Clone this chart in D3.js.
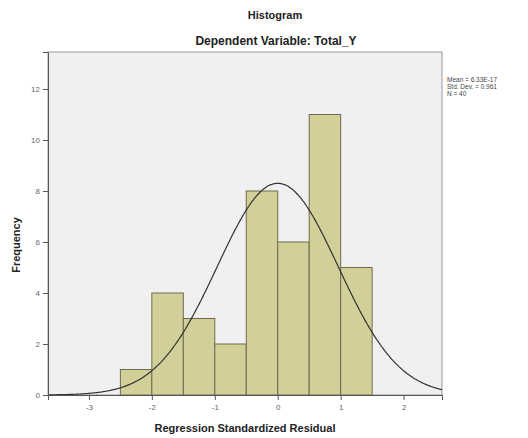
<!DOCTYPE html>
<html><head><meta charset="utf-8">
<script src="https://cdn.jsdelivr.net/npm/d3@7"></script>
<style>body{margin:0;background:#fff;} svg{display:block;font-family:"Liberation Sans",Arial,sans-serif;}</style>
</head><body>
<svg id="c" width="528" height="438"></svg>
<script>
const binStarts = [-2.5,-2.0,-1.5,-1.0,-0.5,0.0,0.5,1.0];
const binWidth = 0.5;
const counts = [1,4,3,2,8,6,11,5];
const xTicks = [-3,-2,-1,0,1,2];
const yTicks = [0,2,4,6,8,10,12];
const meanVal = 0, sdVal = 0.961, nVal = 40;
const statsText = ["Mean = 6.33E-17","Std. Dev. = 0.961","N = 40"];

const svg = d3.select("#c");
const L=48, R=442, T=52, B=395;
const x = d3.scaleLinear().domain([-3.65,2.61]).range([L,R]);
const y = d3.scaleLinear().domain([0,13.45]).range([B,T]);

svg.append("rect").attr("x",L).attr("y",T).attr("width",R-L).attr("height",B-T)
  .attr("fill","#f0f0f0").attr("stroke","#9a9a9a").attr("stroke-width",1);

svg.append("g").selectAll("rect").data(counts).join("rect")
  .attr("x",(d,i)=>x(binStarts[i])).attr("width",(d,i)=>x(binStarts[i]+binWidth)-x(binStarts[i]))
  .attr("y",d=>y(d)).attr("height",d=>y(0)-y(d))
  .attr("fill","#d3cf98").attr("stroke","#6e6c4c").attr("stroke-width",1);

const pts = d3.range(-3.65,2.6101,0.02).map(v=>[v, nVal*binWidth*Math.exp(-0.5*((v-meanVal)/sdVal)**2)/(sdVal*Math.sqrt(2*Math.PI))]);
svg.append("path").datum(pts).attr("fill","none").attr("stroke","#333").attr("stroke-width",1.2)
  .attr("d",d3.line().x(d=>x(d[0])).y(d=>y(d[1])).curve(d3.curveBasis));

const gx = svg.append("g").attr("transform",`translate(0,${B})`)
  .call(d3.axisBottom(x).tickValues(xTicks).tickSize(5).tickPadding(4).tickFormat(d=>String(d)));
gx.select(".domain").attr("stroke","#555");
gx.selectAll("line").attr("stroke","#555");
gx.selectAll("text").attr("fill","#666").attr("font-size","8px");

const gy = svg.append("g").attr("transform",`translate(${L},0)`)
  .call(d3.axisLeft(y).tickValues(yTicks).tickSize(5).tickPadding(3).tickFormat(d=>String(d)));
gy.select(".domain").attr("stroke","#555");
gy.selectAll("line").attr("stroke","#555");
gy.selectAll("text").attr("fill","#666").attr("font-size","8px");

svg.append("text").attr("x",275).attr("y",19).attr("text-anchor","middle")
  .attr("font-weight","bold").attr("font-size","11px").attr("fill","#222").text("Histogram");
svg.append("text").attr("x",276).attr("y",45).attr("text-anchor","middle")
  .attr("font-weight","bold").attr("font-size","12px").attr("fill","#222").text("Dependent Variable: Total_Y");
svg.append("text").attr("x",245).attr("y",432).attr("text-anchor","middle")
  .attr("font-weight","bold").attr("font-size","11px").attr("fill","#222").text("Regression Standardized Residual");
svg.append("text").attr("transform","translate(20,245) rotate(-90)").attr("text-anchor","middle")
  .attr("font-weight","bold").attr("font-size","11px").attr("fill","#222").text("Frequency");

svg.append("g").selectAll("text").data(statsText).join("text")
  .attr("x",447).attr("y",(d,i)=>82+i*7).attr("font-size","6.5px").attr("fill","#444").text(d=>d);
</script>
</body></html>
